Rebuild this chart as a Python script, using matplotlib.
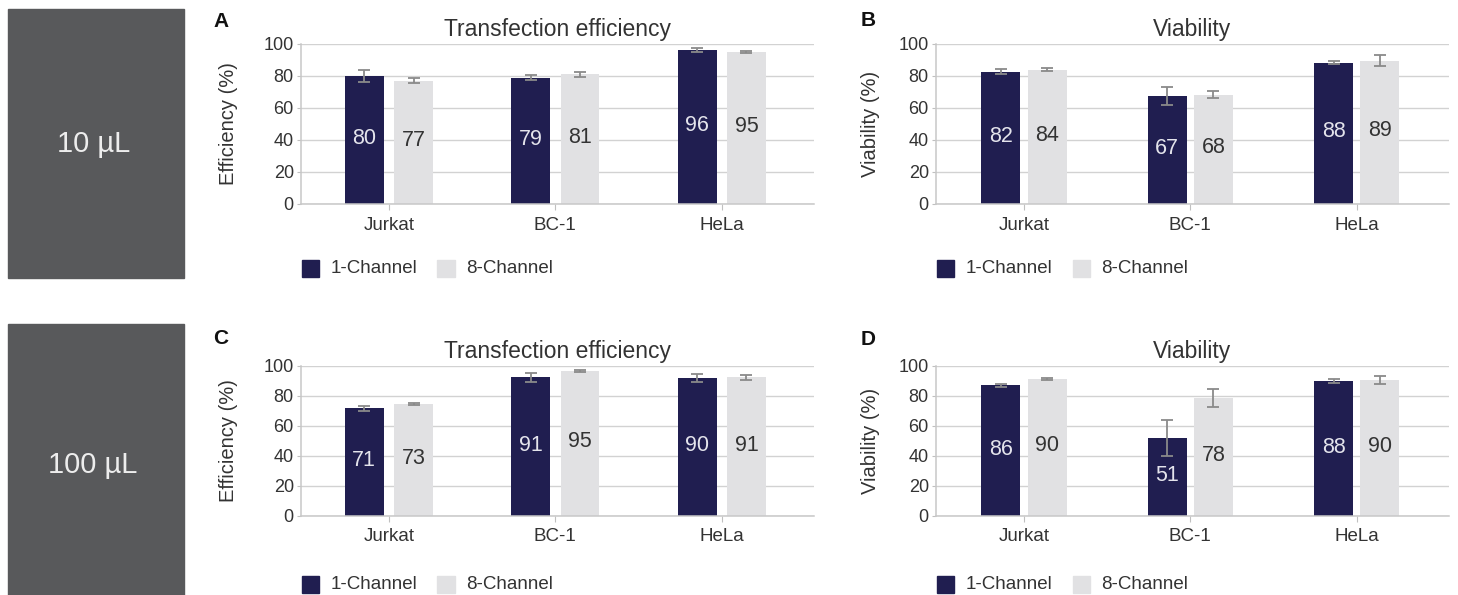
import numpy as np
import matplotlib
matplotlib.use("Agg")
import matplotlib.pyplot as plt
from matplotlib.patches import Rectangle

plt.rcParams['font.family'] = ['Liberation Sans', 'DejaVu Sans']

cells = ['Jurkat', 'BC-1', 'HeLa']
series = ['1-Channel', '8-Channel']

# 10 uL - transfection efficiency
eff10_one = [80, 79, 96]
eff10_one_err = [3.6, 1.7, 1.2]
eff10_eight = [77, 81, 95]
eff10_eight_err = [1.6, 1.5, 0.5]
eff10_one_lab = ['80', '79', '96']
eff10_eight_lab = ['77', '81', '95']

# 10 uL - viability
via10_one = [82.7, 67.6, 88.3]
via10_one_err = [1.7, 5.8, 1.1]
via10_eight = [83.9, 68.3, 89.6]
via10_eight_err = [1.0, 2.3, 3.3]
via10_one_lab = ['82', '67', '88']
via10_eight_lab = ['84', '68', '89']

# 100 uL - transfection efficiency
eff100_one = [71.6, 92.2, 91.8]
eff100_one_err = [1.5, 3.0, 2.7]
eff100_eight = [74.5, 96.5, 92.2]
eff100_eight_err = [0.5, 0.5, 1.5]
eff100_one_lab = ['71', '91', '90']
eff100_eight_lab = ['73', '95', '91']

# 100 uL - viability
via100_one = [86.9, 51.7, 89.6]
via100_one_err = [1.2, 12.0, 1.4]
via100_eight = [91.1, 78.5, 90.5]
via100_eight_err = [0.7, 6.0, 2.6]
via100_one_lab = ['86', '51', '88']
via100_eight_lab = ['90', '78', '90']

volumes = ['10 µL', '100 µL']

NAVY = '#201e50'
LIGHT = '#e1e1e3'
TXT = '#333333'
W, H = 1458.0, 595.0

fig = plt.figure(figsize=(W / 100, H / 100), dpi=100)


def px(x0, y_top, w, h):
    # pixel box (from top-left) -> figure fraction rect
    return [x0 / W, 1 - (y_top + h) / H, w / W, h / H]


def draw_panel(rect, one, one_err, one_lab, eight, eight_err, eight_lab,
               title, ylabel, off, ylab_off):
    ax = fig.add_axes(rect)
    x = np.arange(len(cells))
    bw = 0.234
    ax.bar(x - off, one, width=bw, color=NAVY, zorder=2)
    ax.bar(x + off, eight, width=bw, color=LIGHT, zorder=2)
    ek = dict(fmt='none', ecolor='#8a8a8a', elinewidth=1.3, capsize=4,
              capthick=1.3, zorder=3)
    ax.errorbar(x - off, one, yerr=one_err, **ek)
    ax.errorbar(x + off, eight, yerr=eight_err, **ek)
    for i in range(len(cells)):
        ax.text(x[i] - off, one[i] / 2 + 1, one_lab[i], ha='center',
                va='center', fontsize=15.5, color='#e4e4ec', zorder=4)
        ax.text(x[i] + off, eight[i] / 2 + 1, eight_lab[i], ha='center',
                va='center', fontsize=15.5, color=TXT, zorder=4)
    ax.set_xlim(-0.53, 2.554)
    ax.set_ylim(0, 100)
    ax.set_yticks(range(0, 101, 20))
    ax.set_xticks(x)
    ax.set_xticklabels(cells)
    ax.grid(axis='y', color='#d2d2d2', linewidth=1, zorder=0)
    ax.set_axisbelow(True)
    for s in ['top', 'right']:
        ax.spines[s].set_visible(False)
    for s in ['left', 'bottom']:
        ax.spines[s].set_color('#c8c8c8')
        ax.spines[s].set_linewidth(1.1)
    ax.tick_params(axis='y', length=3, color='#c0c0c0', labelsize=13,
                   labelcolor=TXT, pad=2)
    ax.tick_params(axis='x', length=4, color='#c0c0c0', labelsize=13.5,
                   labelcolor=TXT, pad=5)
    ax.set_title(title, fontsize=16.5, color=TXT, pad=5.5)
    ax.set_ylabel(ylabel, fontsize=14.5, color=TXT)
    ax.yaxis.set_label_coords(-ylab_off / (rect[2] * W), 0.5)
    return ax


def draw_legend(spine_x, yc):
    cols = [NAVY, LIGHT]
    for k, name in enumerate(series):
        sx = spine_x + 1.3 + k * 135.5
        fig.add_artist(Rectangle(((sx) / W, 1 - (yc + 8.5) / H), 17 / W, 17 / H,
                                 transform=fig.transFigure, color=cols[k]))
        fig.text((sx + 28.5) / W, 1 - yc / H, name, fontsize=13.5, color=TXT,
                 ha='left', va='center')


# grey volume boxes
fig.add_artist(Rectangle((8 / W, 1 - 277.7 / H), 176 / W, 268.7 / H,
                         transform=fig.transFigure, color='#58595b'))
fig.add_artist(Rectangle((8 / W, 0), 176 / W, 271 / H,
                         transform=fig.transFigure, color='#58595b'))
fig.text(94 / W, 1 - 144 / H, volumes[0], fontsize=21, color='#ededed',
         ha='center', va='center')
fig.text(93 / W, 1 - 465 / H, volumes[1], fontsize=21, color='#ededed',
         ha='center', va='center')

ax_a = draw_panel(px(300.7, 44, 513.3, 160), eff10_one, eff10_one_err,
                  eff10_one_lab, eff10_eight, eff10_eight_err, eff10_eight_lab,
                  'Transfection efficiency', 'Efficiency (%)', 0.148, 63)
ax_b = draw_panel(px(935.7, 44, 513.3, 160), via10_one, via10_one_err,
                  via10_one_lab, via10_eight, via10_eight_err, via10_eight_lab,
                  'Viability', 'Viability (%)', 0.139, 56)
ax_c = draw_panel(px(300.7, 365.7, 513.3, 150), eff100_one, eff100_one_err,
                  eff100_one_lab, eff100_eight, eff100_eight_err,
                  eff100_eight_lab, 'Transfection efficiency', 'Efficiency (%)',
                  0.148, 63)
ax_d = draw_panel(px(935.7, 365.7, 513.3, 150), via100_one, via100_one_err,
                  via100_one_lab, via100_eight, via100_eight_err,
                  via100_eight_lab, 'Viability', 'Viability (%)', 0.139, 56)

draw_legend(300.7, 268.5)
draw_legend(935.7, 268.5)
draw_legend(300.7, 584.7)
draw_legend(935.7, 584.7)

# panel letters
for lab, lx, ly in [('A', 213, 21.5), ('B', 861, 20.5), ('C', 213, 338.5),
                    ('D', 861, 339.5)]:
    fig.text(lx / W, 1 - ly / H, lab, fontsize=15, fontweight='bold',
             color='#111111', ha='left', va='center')

fig.savefig('out.png', dpi=100)
